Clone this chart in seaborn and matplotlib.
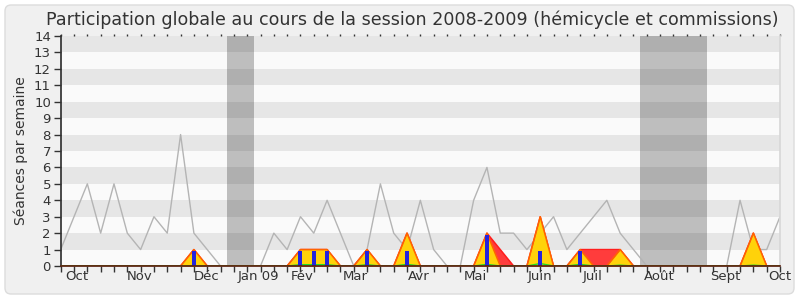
import numpy as np
import pandas as pd
import matplotlib
matplotlib.use("Agg")
import matplotlib.pyplot as plt
import seaborn as sns
from matplotlib.patches import FancyBboxPatch

title = "Participation globale au cours de la session 2008-2009 (hémicycle et commissions)"
ylabel = "Séances par semaine"
month_labels = ["Oct", "Nov", "Déc", "Jan 09", "Fév", "Mar", "Avr", "Mai",
                "Juin", "Juil", "Août", "Sept", "Oct"]
month_pos = [1.2, 5.95, 10.95, 14.85, 18.15, 22.15, 26.9, 31.15,
             35.95, 39.9, 44.95, 49.9, 54.0]
vacances = [(12.5, 14.5), (43.5, 48.5)]

# weekly values (55 weeks)
total = [1, 3, 5, 2, 5, 2, 1, 3, 2, 8, 2, 1, 0, 0, 0, 0, 2, 1, 3, 2, 4, 2, 0,
         1, 5, 2, 1, 4, 1, 0, 0, 4, 6, 2, 2, 1, 2, 3, 1, 2, 3, 4, 2, 1, 0, 0,
         0, 0, 0, 0, 0, 4, 1, 1, 3]
presence = [0, 0, 0, 0, 0, 0, 0, 0, 0, 0, 1, 0, 0, 0, 0, 0, 0, 0, 1, 1, 1, 0,
            0, 1, 0, 0, 2, 0, 0, 0, 0, 0, 2, 0, 0, 0, 3, 0, 0, 1, 0, 0, 1, 0,
            0, 0, 0, 0, 0, 0, 0, 0, 2, 0, 0]
hemicycle = [0, 0, 0, 0, 0, 0, 0, 0, 0, 0, 1, 0, 0, 0, 0, 0, 0, 0, 1, 1, 1, 0,
             0, 1, 0, 0, 2, 0, 0, 0, 0, 0, 2, 1, 0, 0, 3, 0, 0, 1, 1, 1, 1, 0,
             0, 0, 0, 0, 0, 0, 0, 0, 2, 0, 0]
questions = [0, 0, 0, 0, 0, 0, 0, 0, 0, 0, 0.9, 0, 0, 0, 0, 0, 0, 0, 0.9, 0.9,
             0.9, 0, 0, 0.9, 0, 0, 0.9, 0, 0, 0, 0, 0, 1.9, 0, 0, 0, 0.9, 0, 0,
             0.9, 0, 0, 0, 0, 0, 0, 0, 0, 0, 0, 0, 0, 0, 0, 0]
interventions = [0, 0, 0, 0, 0, 0, 0, 0, 0, 0, 0, 0, 0, 0, 0, 0, 0, 0, 0.08,
                 0.08, 0.08, 0, 0, 0.08, 0, 0, 0.1, 0, 0, 0, 0, 0, 0.1, 0, 0,
                 0, 0.15, 0, 0, 0.1, 0, 0, 0.05, 0, 0, 0, 0, 0, 0, 0, 0, 0,
                 0.05, 0, 0]

weeks = np.arange(len(total))
df = pd.DataFrame({"semaine": weeks, "total": total, "presence": presence,
                   "hemicycle": hemicycle, "questions": questions,
                   "interventions": interventions})

sns.set_theme(style="white")
plt.rcParams["font.family"] = ["DejaVu Sans"]

fig = plt.figure(figsize=(8, 3), dpi=100, facecolor="white")
fig.patches.append(FancyBboxPatch((5, 6), 789, 289,
                                  boxstyle="round,pad=0,rounding_size=6",
                                  transform=None, facecolor="#F0F0F0",
                                  edgecolor="#DCDCDC", linewidth=1, zorder=-10))
ax = fig.add_axes([60.7 / 800, 34 / 300, (780 - 60.7) / 800, (266 - 36) / 300])
ax.set_facecolor("#FAFAFA")

# stripes
for k in range(1, 14, 2):
    ax.axhspan(k, k + 1, color="#E6E6E6", zorder=0.5, linewidth=0)
# holidays
for a, b in vacances:
    ax.axvspan(a, b, color="black", alpha=0.24, zorder=1.5, linewidth=0)

sns.lineplot(data=df, x="semaine", y="total", ax=ax, color="#B4B4B4",
             linewidth=1, zorder=2)

ax.fill_between(weeks, 0, df["hemicycle"], color="#FF3C3C", zorder=3, linewidth=0)
ax.plot(weeks, df["hemicycle"], color="#FF1E1E", linewidth=1.1, zorder=3.5)
ax.fill_between(weeks, 0, df["presence"], color="#FFD20A", zorder=4, linewidth=0)
ax.plot(weeks, df["presence"], color="#FF6400", linewidth=1.1, zorder=4.5)
ax.plot(weeks, df["interventions"], color="#22DD22", linewidth=1.0, zorder=5)
ax.bar(weeks, df["questions"], width=0.3, color="#2424DC", zorder=6, linewidth=0)

ax.set_xlim(0, 54)
ax.set_ylim(0, 14)
ax.set_yticks(range(0, 15))
ax.xaxis.remove_overlapping_locs = False
ax.set_xticks(weeks)
ax.set_xticklabels([])
ax.set_xticks(month_pos, minor=True)
ax.set_xticklabels(month_labels, minor=True)
ax.tick_params(axis="x", which="major", bottom=True, top=True, direction="out",
               length=4, width=1, color="#333333")
ax.tick_params(axis="x", which="minor", bottom=True, length=0, pad=3,
               labelsize=9.5, labelcolor="#333333")
ax.tick_params(axis="y", left=True, direction="out", length=5, width=1,
               color="#333333", pad=2, labelsize=9.5, labelcolor="#333333")
for t in ax.xaxis.get_major_ticks():
    t.tick2line.set_markersize(1.5)
    t.tick2line.set_color("#666666")

for s in ["top"]:
    ax.spines[s].set_visible(False)
ax.spines["right"].set_color("#D8D8D8")
ax.spines["left"].set_color("#333333")
ax.spines["bottom"].set_color("#5A2010")
ax.spines["bottom"].set_zorder(7)

ax.set_xlabel("")
ax.set_ylabel(ylabel, fontsize=10, color="#333333", labelpad=4)
fig.text(412 / 800, 1 - 20 / 300, title, ha="center", va="center",
         fontsize=12.6, color="#333333")

fig.savefig("out.png", dpi=100, facecolor=fig.get_facecolor())
